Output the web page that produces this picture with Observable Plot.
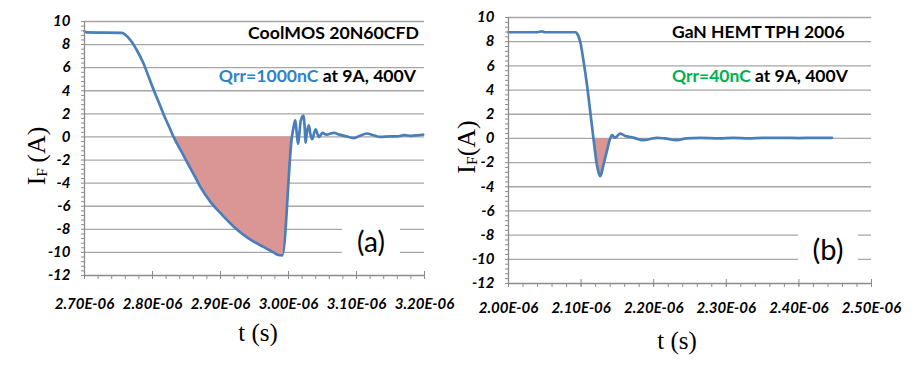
<!DOCTYPE html>
<html><head><meta charset="utf-8">
<script src="https://cdn.jsdelivr.net/npm/d3@7"></script>
<script src="https://cdn.jsdelivr.net/npm/@observablehq/plot@0.6"></script>
<style>
body{margin:0;background:#fff;}
#wrap{position:relative;width:916px;height:370px;overflow:hidden;font-family:Lato,"Open Sans",sans-serif;background:#fff;}
.plot{position:absolute;top:0;}
.ann{position:absolute;white-space:nowrap;font-weight:bold;color:#000;line-height:20px;}
.tag{position:absolute;background:#fff;text-align:center;font-family:Lato,sans-serif;font-weight:normal;color:#000;}
.ylab{position:absolute;font-family:"Liberation Serif","Times New Roman",serif;font-size:26px;white-space:nowrap;transform:translate(-50%,-50%) rotate(-90deg);line-height:1;}
.xlab{position:absolute;font-family:"Liberation Serif","Times New Roman",serif;font-size:25px;white-space:nowrap;transform:translate(-50%,-50%);line-height:1;}
</style></head>
<body><div id="wrap"></div>
<script>
// ---------- shared axis values ----------
const yTicks = [10, 8, 6, 4, 2, 0, -2, -4, -6, -8, -10, -12];
const gridY = [10, 8, 6, 4, 2, 0, -2, -4, -6, -8, -10];

// ---------- (a) CoolMOS 20N60CFD ----------
const xTicksA = [2.7, 2.8, 2.9, 3.0, 3.1, 3.2];           // µs (labelled E-06)
const timeA = [2.700, 2.703, 2.755, 2.760, 2.768, 2.778, 2.787, 2.795, 2.802, 2.810, 2.817, 2.824, 2.831,
  2.841, 2.851, 2.863, 2.8706, 2.885, 2.900, 2.920, 2.940, 2.964, 2.978, 2.985, 2.991, 3.005,
  3.008, 3.010, 3.012, 3.014, 3.016, 3.018, 3.022, 3.024, 3.025, 3.027, 3.030, 3.032, 3.035, 3.038,
  3.040, 3.043, 3.045, 3.050, 3.056, 3.062, 3.067, 3.075, 3.085, 3.096, 3.105, 3.115, 3.125, 3.135,
  3.150, 3.160, 3.170, 3.180, 3.190, 3.198];
const currentA = [9.15, 9.05, 9.02, 8.85, 8.35, 7.4, 6.34, 5.1, 4.03, 2.9, 1.86, 0.95, 0.0,
  -1.1, -2.2, -3.5, -4.35, -5.6, -6.6, -7.8, -8.75, -9.54, -10.0, -10.22, -10.26, 0.0,
  1.0, 1.43, 0.4, -0.6, 0.3, 1.4, 1.85, 0.6, -0.5, 0.4, 1.0, 0.3, -0.2, 0.4,
  0.65, 0.2, 0.0, 0.35, 0.2, 0.3, 0.35, 0.2, 0.05, -0.1, 0.1, 0.3, 0.15, 0.0,
  0.05, 0.05, 0.15, 0.1, 0.15, 0.2];
const qrrWindowA = [2.831, 3.005];

// ---------- (b) GaN HEMT TPH 2006 ----------
const xTicksB = [2.0, 2.1, 2.2, 2.3, 2.4, 2.5];
const timeB = [2.000, 2.040, 2.046, 2.050, 2.092, 2.096, 2.099, 2.1033, 2.108, 2.1125, 2.117, 2.1217,
  2.1245, 2.1263, 2.128, 2.1309, 2.1355, 2.140, 2.143, 2.146, 2.149, 2.154, 2.161, 2.170, 2.178,
  2.186, 2.195, 2.2045, 2.215, 2.232, 2.245, 2.264, 2.290, 2.310, 2.3306, 2.350, 2.3788, 2.400, 2.420, 2.4455];
const currentB = [8.78, 8.78, 8.85, 8.78, 8.78, 8.5, 7.93, 6.41, 4.48, 2.26, 0.0, -2.16,
  -2.9, -3.13, -2.9, -2.16, -1.05, 0.0, 0.28, 0.05, 0.15, 0.4, 0.2, 0.1, -0.05,
  -0.15, -0.05, 0.05, 0.0, -0.15, 0.0, 0.05, 0.0, 0.05, 0.0, 0.05, 0.05, 0.03, 0.05, 0.05];
const qrrWindowB = [2.117, 2.140];

const LINE = "#4a7ebb", FILL = "#d99694", GRID = "#a6a6a6", AXIS = "#8c8c8c";
const tickFont = {fontSize: 15, fontWeight: "bold", fontStyle: "italic", fontFamily: "Lato, sans-serif", fill: "#000", stroke: "#000", strokeWidth: 0.55};

function chart({time, current, win, xTicks, width, ml, mr, mt, mb, pad}) {
  const data = time.map((t, k) => ({t, i: current[k]}));
  const fill = data.filter(d => d.t >= win[0] && d.t <= win[1]);
  const x0 = xTicks[0], x1 = xTicks[xTicks.length - 1];
  const minorX = d3.range(0, 26).map(k => x0 + k * 0.02);
  const minorY = d3.range(0, 56).map(k => -12 + k * 0.4);
  return Plot.plot({
    width, height: 370, marginLeft: ml, marginRight: mr, marginTop: mt, marginBottom: mb,
    x: {domain: [x0, x1], label: null},
    y: {domain: [-12, 10], label: null},
    style: {fontFamily: "Lato, sans-serif", fontSize: "15px", fontWeight: "bold", fontStyle: "italic", color: "#000", background: "transparent", overflow: "visible"},
    marks: [
      Plot.ruleY(gridY, {stroke: GRID, strokeWidth: 1.3}),
      Plot.areaY(fill, {x: "t", y1: 0, y2: "i", fill: FILL, fillOpacity: 1, curve: "monotone-x"}),
      Plot.line(data, {x: "t", y: "i", stroke: LINE, strokeWidth: 2.7, strokeLinejoin: "round", curve: "monotone-x"}),
      Plot.ruleY([-12], {stroke: AXIS, strokeWidth: 1.3}),
      Plot.ruleX([x0], {stroke: AXIS, strokeWidth: 1.3}),
      Plot.axisY(minorY, {tickSize: 3, tickFormat: () => "", stroke: AXIS}),
      Plot.axisY(yTicks, {tickSize: 0, tickPadding: 14, tickFormat: d => String(d), ...tickFont}),
      Plot.axisX(minorX, {tickSize: 4, tickFormat: () => "", stroke: AXIS}),
      Plot.axisX(xTicks, {tickSize: 7, dy: -4, tickFormat: () => "", stroke: AXIS}),
      Plot.axisX(xTicks, {tickSize: 0, tickPadding: pad, tickFormat: d => d.toFixed(2) + "E-06", ...tickFont})
    ]
  });
}

const wrap = document.getElementById("wrap");
const a = chart({time: timeA, current: currentA, win: qrrWindowA, xTicks: xTicksA, width: 450, ml: 84, mr: 26, mt: 21, mb: 95, pad: 23});
a.classList.add("plot"); a.style.left = "0px"; wrap.appendChild(a);
const b = chart({time: timeB, current: currentB, win: qrrWindowB, xTicks: xTicksB, width: 466, ml: 58, mr: 45, mt: 17, mb: 87, pad: 19});
b.classList.add("plot"); b.style.left = "450px"; wrap.appendChild(b);

wrap.insertAdjacentHTML("beforeend", `
  <div class="ann" style="right:497px;top:23px;font-size:17.7px;">CoolMOS 20N60CFD</div>
  <div class="ann" style="right:500px;top:66px;font-size:17.6px;"><span style="color:#2e83c8">Qrr=1000nC</span> at 9A, 400V</div>
  <div class="tag" style="left:342px;top:224px;width:58px;height:34px;font-size:28px;line-height:34px;">(a)</div>
  <div class="ann" style="left:672px;top:22px;font-size:17.5px;">GaN HEMT TPH 2006</div>
  <div class="ann" style="left:672px;top:66px;font-size:17.5px;"><span style="color:#00b050">Qrr=40nC</span> at 9A, 400V</div>
  <div class="tag" style="left:798px;top:232px;width:60px;height:34px;font-size:29px;line-height:34px;">(b)</div>
  <div class="ylab" style="left:37px;top:156px;">I<sub style="font-size:60%;vertical-align:-0.15em">F</sub>&#8201;(A)</div>
  <div class="ylab" style="left:467px;top:147px;">I<sub style="font-size:60%;vertical-align:-0.15em">F</sub>(A)</div>
  <div class="xlab" style="left:258px;top:332px;">t (s)</div>
  <div class="xlab" style="left:677px;top:340px;">t (s)</div>
`);
</script>
</body></html>
